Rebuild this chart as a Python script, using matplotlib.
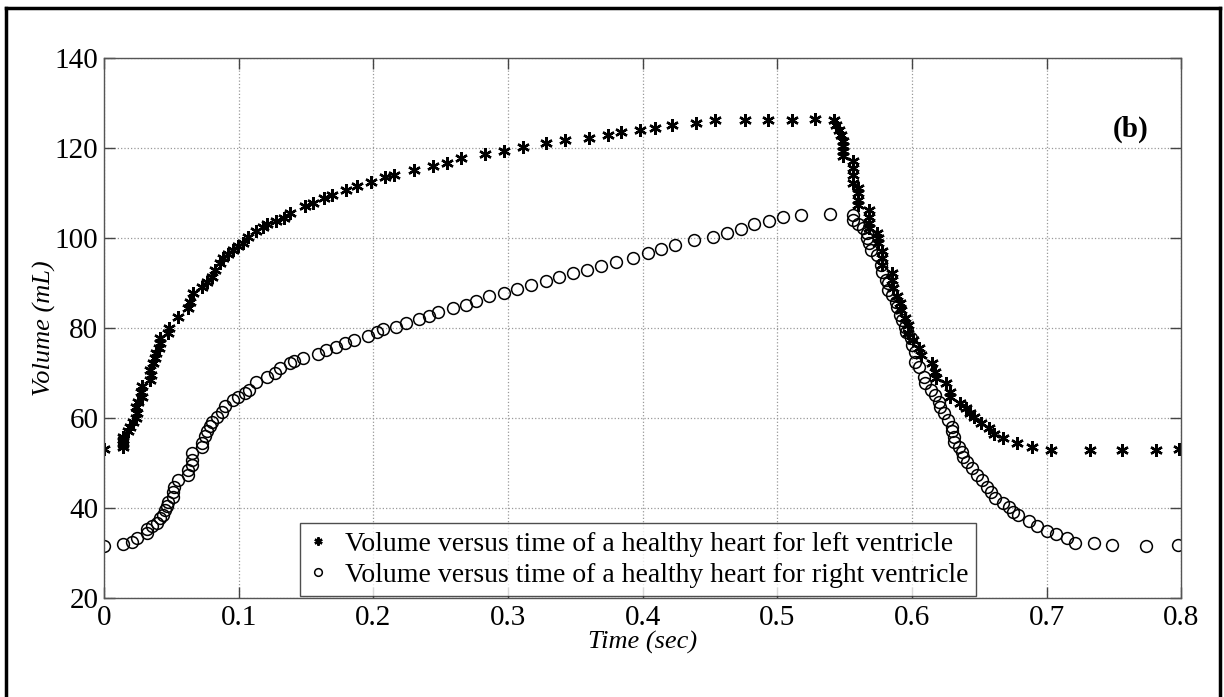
import matplotlib
matplotlib.use('Agg')
import matplotlib.pyplot as plt
from matplotlib.lines import Line2D

plt.rcParams['font.family'] = ['Liberation Serif', 'DejaVu Serif']

# left ventricle volume (mL) vs time (sec)
t_left = [0.0, 0.0139, 0.0139, 0.0139, 0.0139, 0.018, 0.0193,
          0.0218, 0.0238, 0.0243, 0.0238, 0.0255, 0.028, 0.0273, 0.028,
          0.0342, 0.0352, 0.0342, 0.0366, 0.0379, 0.0386, 0.0411, 0.0416, 0.0416,
          0.0478, 0.0485, 0.0552, 0.0626, 0.0639, 0.0659,
          0.0726, 0.0763, 0.0800, 0.0825, 0.0862, 0.0887, 0.0924, 0.0961,
          0.0998, 0.1035, 0.107, 0.113, 0.118, 0.121, 0.128, 0.134, 0.138,
          0.149, 0.155, 0.163, 0.169, 0.180, 0.188, 0.198, 0.209, 0.215,
          0.230, 0.244, 0.255, 0.265, 0.283, 0.297, 0.311, 0.328, 0.342,
          0.360, 0.374, 0.384, 0.398, 0.409, 0.422, 0.440, 0.454, 0.476,
          0.493, 0.511, 0.528, 0.542, 0.544, 0.546, 0.547, 0.549, 0.549,
          0.549, 0.549, 0.556, 0.556, 0.556, 0.556, 0.560, 0.560, 0.560,
          0.560, 0.568, 0.568, 0.568, 0.568, 0.574, 0.575, 0.575, 0.578,
          0.578, 0.578, 0.585, 0.585, 0.586, 0.589, 0.591, 0.592, 0.595,
          0.597, 0.597, 0.601, 0.605, 0.607, 0.615, 0.617, 0.618, 0.625,
          0.628, 0.628, 0.636, 0.640, 0.643, 0.646, 0.651, 0.657, 0.661,
          0.668, 0.678, 0.689, 0.703, 0.732, 0.756, 0.781, 0.7985]
v_left = [53.0, 53.6, 54.3, 55.1, 55.7, 57.0, 58.1,
          59.2, 59.9, 61.0, 62.5, 63.6, 64.7, 65.8, 67.1,
          68.4, 69.6, 70.7, 72.2, 73.3, 74.4, 75.5, 76.6, 77.7,
          78.8, 79.9, 82.5, 84.4, 85.8, 87.7,
          89.2, 90.3, 91.4, 92.9, 94.4, 95.5, 96.4, 97.3,
          98.1, 98.9, 100.2, 101.6, 102.5, 103.0, 103.8, 104.5, 105.6,
          107.0, 107.7, 108.8, 109.6, 110.7, 111.6, 112.5, 113.5, 114.0,
          115.1, 115.9, 116.7, 117.8, 118.6, 119.4, 120.3, 121.0, 121.8,
          122.3, 122.9, 123.5, 123.9, 124.4, 125.0, 125.6, 126.2, 126.2,
          126.2, 126.2, 126.4, 126.1, 125.1, 124.0, 122.9, 121.6, 120.4,
          119.2, 118.1, 117.0, 115.5, 114.0, 112.3, 111.0, 109.9, 108.4,
          107.3, 106.2, 104.7, 103.3, 102.2, 101.0, 99.9, 98.8, 97.0,
          95.5, 94.0, 92.2, 90.7, 88.8, 87.0, 85.5, 84.0, 82.2,
          80.7, 78.8, 77.3, 75.5, 74.0, 72.2, 70.3, 68.8, 67.7,
          65.8, 64.7, 63.3, 62.2, 61.0, 60.3, 58.8, 57.7, 56.4,
          55.5, 54.4, 53.6, 52.9, 52.9, 52.9, 52.9, 53.0]

# right ventricle volume (mL) vs time (sec)
t_right = [0.0, 0.0139, 0.021, 0.0243, 0.0317, 0.0317, 0.0354, 0.039,
           0.0416, 0.044, 0.0453, 0.0466, 0.0478, 0.0515, 0.0515, 0.052,
           0.0552, 0.0626, 0.0626, 0.0651, 0.0651, 0.0651, 0.0726, 0.0726,
           0.075, 0.0763, 0.0787, 0.080, 0.0837, 0.0874, 0.0899, 0.096,
           0.0998, 0.105, 0.108, 0.113, 0.121, 0.127, 0.131, 0.138, 0.141,
           0.148, 0.159, 0.165, 0.172, 0.179, 0.186, 0.196, 0.203, 0.207,
           0.217, 0.224, 0.234, 0.241, 0.248, 0.259, 0.269, 0.276, 0.286,
           0.297, 0.307, 0.317, 0.328, 0.338, 0.348, 0.359, 0.369, 0.380,
           0.393, 0.404, 0.414, 0.424, 0.438, 0.452, 0.463, 0.473, 0.483,
           0.494, 0.504, 0.518, 0.539, 0.556, 0.556, 0.560, 0.5635, 0.5665,
           0.567, 0.568, 0.570, 0.574, 0.577, 0.578, 0.581, 0.582, 0.582,
           0.585, 0.588, 0.589, 0.591, 0.593, 0.595, 0.596, 0.599, 0.600,
           0.602, 0.602, 0.605, 0.609, 0.610, 0.614, 0.617, 0.620, 0.621,
           0.6235, 0.627, 0.630, 0.630, 0.631, 0.631, 0.635, 0.637, 0.638,
           0.641, 0.645, 0.648, 0.652, 0.656, 0.659, 0.662, 0.668, 0.672,
           0.675, 0.679, 0.687, 0.693, 0.700, 0.707, 0.715, 0.721, 0.735,
           0.749, 0.774, 0.798]
v_right = [31.6, 32.0, 32.5, 33.4, 34.4, 35.3, 36.0, 36.7,
           37.7, 38.4, 39.6, 40.4, 41.4, 42.5, 43.6, 44.7,
           46.2, 47.3, 48.4, 49.6, 50.7, 52.2, 53.6, 54.4,
           55.9, 57.0, 58.2, 59.2, 60.3, 61.4, 62.7, 64.0,
           64.7, 65.5, 66.2, 68.1, 69.2, 69.9, 71.0, 72.2, 72.7,
           73.3, 74.2, 75.1, 75.7, 76.6, 77.3, 78.2, 79.0, 79.7,
           80.3, 81.0, 81.9, 82.7, 83.6, 84.5, 85.1, 86.0, 87.0,
           87.7, 88.6, 89.6, 90.4, 91.3, 92.2, 92.9, 93.8, 94.7,
           95.6, 96.6, 97.6, 98.4, 99.6, 100.2, 101.0, 101.9, 103.0,
           103.8, 104.6, 105.1, 105.3, 105.1, 104.0, 103.1, 102.2, 101.0,
           99.9, 98.8, 97.3, 96.2, 94.0, 92.5, 90.7, 89.9, 88.4,
           87.3, 85.8, 84.6, 82.9, 81.8, 80.3, 79.2, 77.7, 76.2,
           74.7, 72.5, 71.4, 69.2, 67.7, 66.2, 65.1, 63.6, 62.5,
           61.0, 59.6, 58.1, 57.0, 55.8, 54.7, 53.6, 52.5, 51.4,
           50.3, 48.8, 47.3, 46.2, 44.7, 43.6, 42.2, 41.0, 40.3,
           39.2, 38.4, 37.1, 36.0, 35.0, 34.2, 33.3, 32.3, 32.2,
           31.8, 31.6, 31.8]

label_left = 'Volume versus time of a healthy heart for left ventricle'
label_right = 'Volume versus time of a healthy heart for right ventricle'

fig = plt.figure(figsize=(12.24, 6.97), dpi=100)
ax = fig.add_axes([0.085, 0.142, 0.880, 0.775])

asterisk = (6, 2, 0)
ax.plot(t_left, v_left, linestyle='none', marker=asterisk, markersize=9,
        markeredgewidth=1.7, color='black', label=label_left)
ax.plot(t_right, v_right, linestyle='none', marker='o', markersize=8.5,
        markerfacecolor='none', markeredgewidth=1.1, color='black',
        label=label_right)

ax.set_xlim(0, 0.8)
ax.set_ylim(20, 140)
ax.set_xticks([0, 0.1, 0.2, 0.3, 0.4, 0.5, 0.6, 0.7, 0.8])
ax.set_xticklabels(['0', '0.1', '0.2', '0.3', '0.4', '0.5', '0.6', '0.7', '0.8'])
ax.set_yticks([20, 40, 60, 80, 100, 120, 140])
ax.tick_params(direction='in', length=8, width=1, top=True, right=True,
               labelsize=21, pad=5, color='#444444')
ax.tick_params(axis='y', pad=4)
ax.grid(True, linestyle=':', color='#999999', linewidth=0.9)
for s in ax.spines.values():
    s.set_color('#555555')
    s.set_linewidth(1.0)

ax.set_xlabel('Time (sec)', fontsize=19, style='italic')
ax.set_ylabel('Volume (mL)', fontsize=19, style='italic')
ax.xaxis.set_label_coords(0.5, -0.06)
ax.yaxis.set_label_coords(-0.045, 0.5)

ax.text(0.953, 0.867, '(b)', transform=ax.transAxes, fontsize=21,
        fontweight='bold', ha='center', va='center')

leg = ax.legend(loc='lower left', bbox_to_anchor=(0.182, 0.004), fontsize=20,
                frameon=True, fancybox=False, borderpad=0.3, handlelength=0.7,
                handletextpad=0.6, labelspacing=0.2, borderaxespad=0,
                markerscale=0.65)
leg.get_frame().set_edgecolor('#222222')
leg.get_frame().set_linewidth(1.0)

# outer frame around the figure
fr = dict(transform=fig.transFigure, color='black', linewidth=2.5)
fig.add_artist(Line2D([0.005, 0.005], [-0.01, 0.989], **fr))
fig.add_artist(Line2D([0.9965, 0.9965], [-0.01, 0.989], **fr))
fig.add_artist(Line2D([0.005, 0.9965], [0.989, 0.989], **fr))

fig.savefig('out.png', dpi=100)
